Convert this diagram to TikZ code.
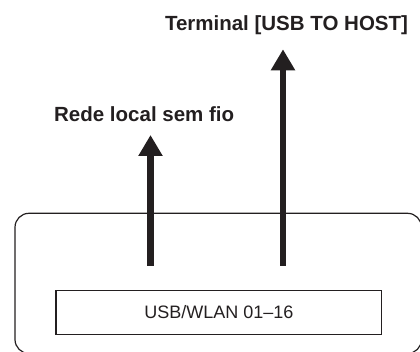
\documentclass[tikz,border=0pt]{standalone}
\usepackage{fontspec}
\setmainfont{Liberation Sans}
\usetikzlibrary{arrows.meta}
\definecolor{ink}{HTML}{231F20}
\begin{document}
\begin{tikzpicture}[x=1pt,y=-1pt,
  lbl/.style={font=\bfseries\fontsize{20.5}{24}\selectfont, text=ink, inner sep=0pt},
  bigarrow/.style={draw=ink, line width=6.8pt, -{Triangle[width=23pt,length=21pt]}, ink},
  panel/.style={draw=ink, line width=1.2pt, rounded corners=14pt},
  display/.style={draw=ink, line width=1.2pt, minimum width=325.5pt, minimum height=43.5pt, inner sep=0pt, font=\fontsize{18}{22}\selectfont, text=ink}]
\useasboundingbox (0,0) rectangle (420,352);
\clip (0,0) rectangle (420,352);
\draw[panel] (15,213.3) rectangle (421.5,353.5);
\node[display] (disp) at (218.8,312.5) {USB/WLAN 01–16};
\node[lbl, anchor=base] (wlan) at (144.2,121.5) {Rede local sem fio};
\node[lbl, anchor=base] (usb) at (286.5,30.5) {Terminal [USB TO HOST]};
\coordinate (a1s) at (150.5,265.7);
\coordinate (a1e) at (150.5,135);
\coordinate (a2s) at (283,265.7);
\coordinate (a2e) at (283,49.3);
\draw[bigarrow] (a1s) -- (a1e);
\draw[bigarrow] (a2s) -- (a2e);
\end{tikzpicture}
\end{document}
